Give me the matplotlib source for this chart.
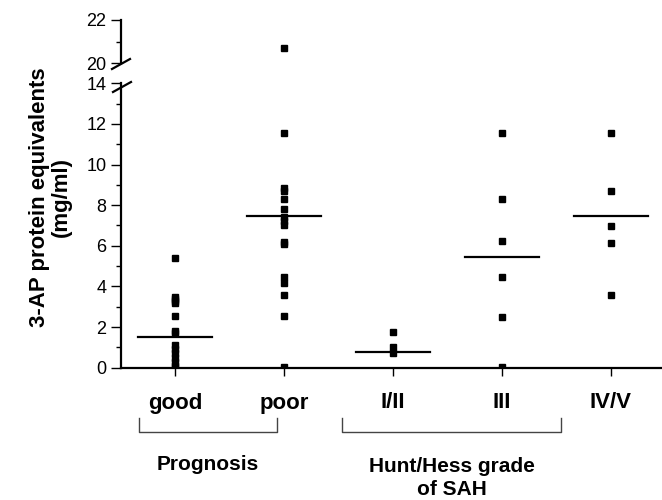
import numpy as np
import matplotlib.pyplot as plt
from matplotlib.lines import Line2D
from matplotlib.transforms import blended_transform_factory

plt.rcParams['font.family'] = ['Liberation Sans', 'DejaVu Sans']

# values (mg/ml)
groups = ['good', 'poor', 'I/II', 'III', 'IV/V']
good = [5.4, 3.5, 3.4, 3.3, 3.2, 2.55, 1.8, 1.7, 1.1, 0.9, 0.7, 0.5, 0.3, 0.1, 0.0]
poor = [20.7, 11.55, 8.85, 8.7, 8.3, 7.8, 7.4, 7.2, 7.0, 6.2, 6.1, 4.48, 4.15, 3.6, 2.55, 0.05]
grade12 = [1.78, 1.03, 0.72]
grade3 = [11.55, 8.3, 6.22, 4.47, 2.52, 0.05]
grade45 = [11.55, 8.7, 6.97, 6.12, 3.58]
values = [good, poor, grade12, grade3, grade45]
means = [1.53, 7.47, 0.76, 5.47, 7.47]

W, H = 662, 500
fig = plt.figure(figsize=(W / 100, H / 100), dpi=100)

def fx(px):
    return px / W

def fy(py):
    return 1 - py / H

ax = fig.add_axes([fx(121), fy(367.7), fx(662) - fx(121), fy(83.3) - fy(367.7)])
ax_top = fig.add_axes([fx(121), fy(63.3), fx(662) - fx(121), fy(20) - fy(63.3)])

xpos = np.arange(1, len(groups) + 1)
for a in (ax, ax_top):
    for x, vals, m in zip(xpos, values, means):
        a.plot([x] * len(vals), vals, 's', color='black', markersize=3.8, linestyle='none')
        a.plot([x - 0.34, x + 0.34], [m, m], color='black', lw=1.6)
    a.set_xlim(0.5, 5.47)
    for s in ('top', 'right'):
        a.spines[s].set_visible(False)
    a.spines['left'].set_linewidth(1.6)
    a.tick_params(axis='y', direction='out', length=7, width=1, labelsize=13, pad=3.5)
    a.tick_params(axis='y', which='minor', direction='out', length=3.5, width=1)

ax.set_ylim(0, 14)
ax.set_yticks(np.arange(0, 15, 2))
ax.set_yticks(np.arange(1, 14, 2), minor=True)
ax.spines['bottom'].set_linewidth(1.6)
ax.set_xticks(xpos)
ax.set_xticklabels([])
ax.tick_params(axis='x', direction='out', length=6, width=1)

ax_top.set_ylim(20, 22)
ax_top.set_yticks([20, 22])
ax_top.set_yticks([21], minor=True)
ax_top.spines['bottom'].set_visible(False)
ax_top.set_xticks([])

# break marks on the y axis
fig.add_artist(Line2D([fx(112), fx(130)], [fy(69), fy(59)], color='black', lw=1.6))
fig.add_artist(Line2D([fx(113), fx(131)], [fy(92), fy(82)], color='black', lw=1.6))

# category labels and group brackets
tr = blended_transform_factory(ax.transData, fig.transFigure)
for x, g in zip(xpos, groups):
    fig.text(x, fy(403), g, transform=tr, ha='center', va='center',
             fontsize=16, fontweight='bold')

def bracket(x0, x1):
    fig.add_artist(Line2D([x0, x0, x1, x1], [fy(418), fy(432), fy(432), fy(418)],
                          transform=tr, color='#444444', lw=1))

bracket(0.662, 1.932)
bracket(2.53, 4.545)
fig.text((0.662 + 1.932) / 2, fy(464), 'Prognosis', transform=tr, ha='center',
         va='center', fontsize=15, fontweight='bold')
fig.text((2.53 + 4.545) / 2, fy(478), 'Hunt/Hess grade\nof SAH', transform=tr,
         ha='center', va='center', fontsize=15, fontweight='bold', linespacing=1.3)

fig.text(fx(50), fy(197), '3-AP protein equivalents\n(mg/ml)', rotation=90,
         ha='center', va='center', fontsize=16, fontweight='bold', linespacing=1.05)

fig.savefig('out.png', dpi=100)
